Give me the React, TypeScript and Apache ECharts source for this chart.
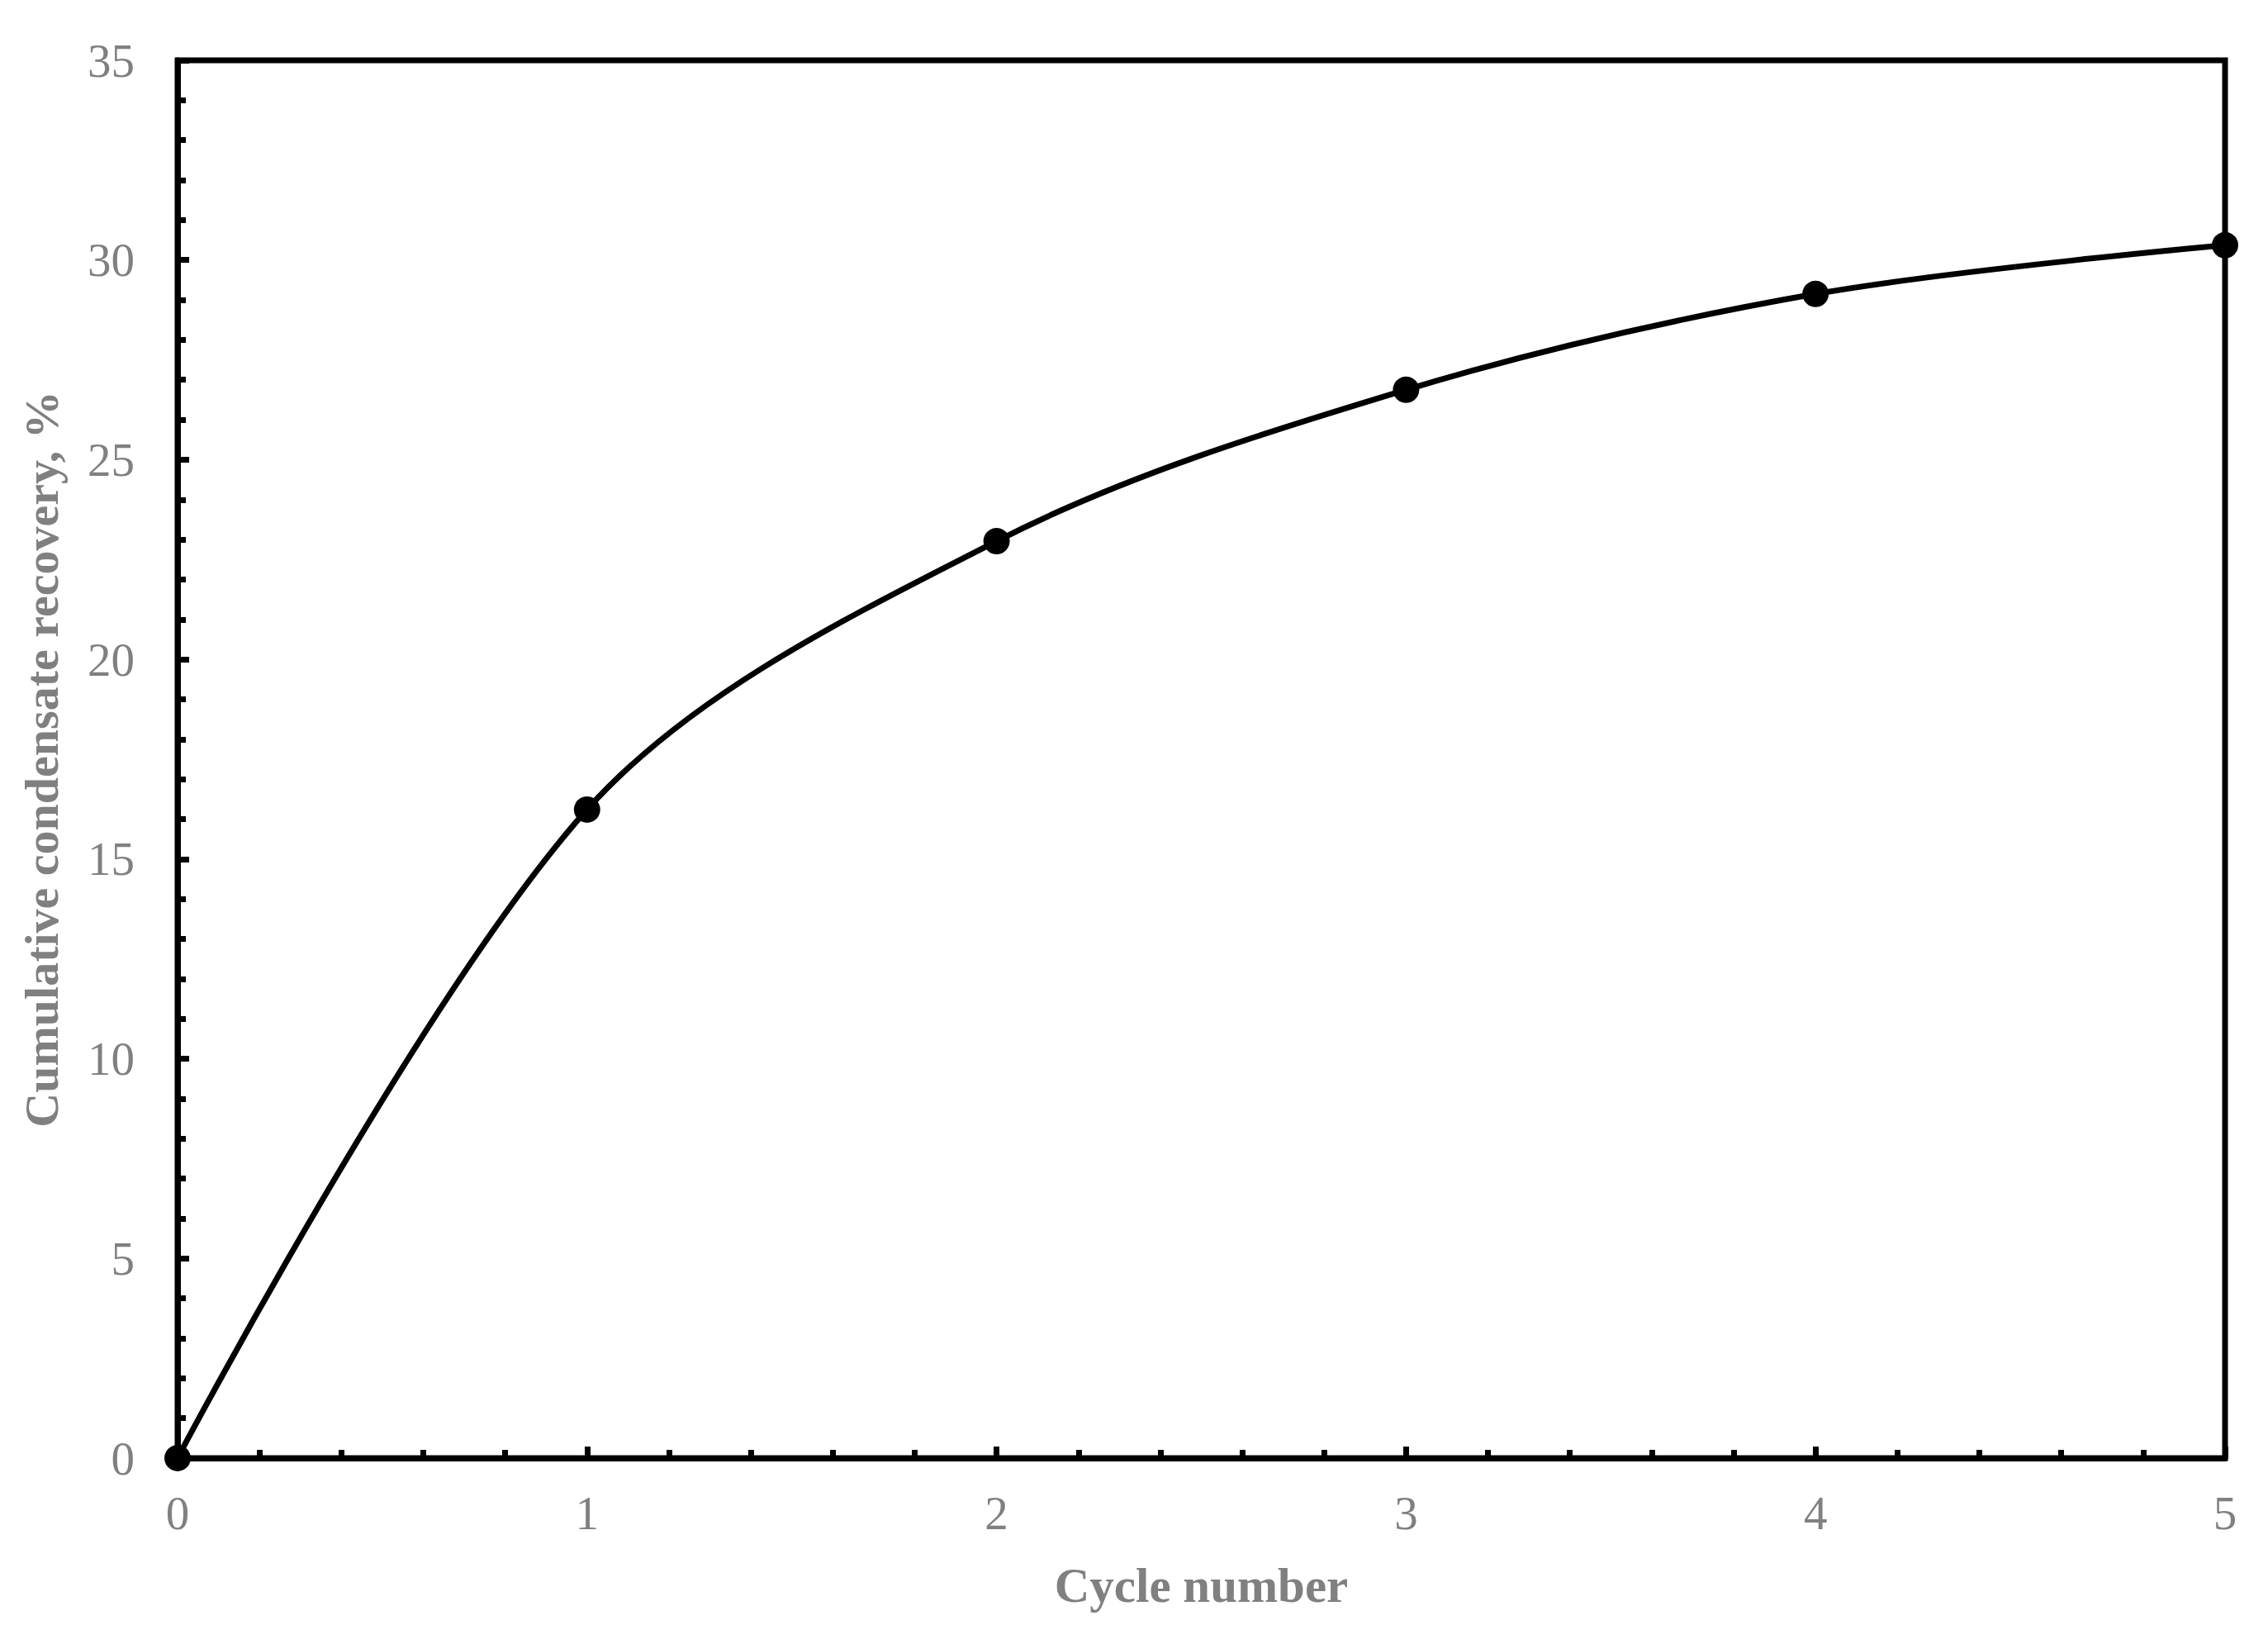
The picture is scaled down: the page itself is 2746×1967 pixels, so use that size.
import React, { useEffect, useRef } from "react";
import * as echarts from "echarts";

const cycles = [0, 1, 2, 3, 4, 5];
const recovery = [0, 16.24, 22.96, 26.75, 29.15, 30.37];
const xTitle = "Cycle number";
const yTitle = "Cumulative condensate recovery, %";

export default function App() {
  const ref = useRef<HTMLDivElement>(null);
  useEffect(() => {
    if (!ref.current) return;
    const chart = echarts.init(ref.current, null, { renderer: "svg" });
    const font = "'Liberation Serif', 'Times New Roman', serif";
    chart.setOption({
      animation: false,
      backgroundColor: "#fff",
      grid: {
        left: 215,
        right: 52,
        top: 73,
        bottom: 202,
        show: true,
        borderColor: "#000",
        borderWidth: 7,
        backgroundColor: "transparent",
      },
      xAxis: {
        type: "value",
        min: 0,
        max: 5,
        interval: 1,
        name: xTitle,
        nameLocation: "middle",
        nameGap: 124,
        nameTextStyle: { fontFamily: font, fontSize: 59, fontWeight: "bold", color: "#808080" },
        axisLine: { show: true, lineStyle: { color: "#000", width: 7 } },
        axisTick: { show: true, inside: true, length: 14, lineStyle: { color: "#000", width: 7 } },
        minorTick: { show: true, splitNumber: 5, length: 10, lineStyle: { color: "#000", width: 7 } },
        splitLine: { show: false },
        axisLabel: { margin: 38, fontFamily: font, fontSize: 57, color: "#808080" },
      },
      yAxis: {
        type: "value",
        min: 0,
        max: 35,
        interval: 5,
        name: yTitle,
        nameLocation: "middle",
        nameGap: 136,
        nameRotate: 90,
        nameTextStyle: { fontFamily: font, fontSize: 58, fontWeight: "bold", color: "#808080" },
        axisLine: { show: true, lineStyle: { color: "#000", width: 7 } },
        axisTick: { show: true, inside: true, length: 14, lineStyle: { color: "#000", width: 7 } },
        minorTick: { show: true, splitNumber: 5, length: 10, lineStyle: { color: "#000", width: 7 } },
        splitLine: { show: false },
        axisLabel: { margin: 52, fontFamily: font, fontSize: 57, color: "#808080" },
      },
      series: [
        {
          type: "line",
          data: cycles.map((c, i) => [c, recovery[i]]),
          smooth: 0.33,
          symbol: "circle",
          symbolSize: 32,
          itemStyle: { color: "#000" },
          lineStyle: { color: "#000", width: 7 },
          clip: false,
          z: 5,
        },
      ],
    });
    return () => chart.dispose();
  }, []);
  return (
    <div
      ref={ref}
      style={{ position: "fixed", left: 0, top: 0, width: 2746, height: 1967, background: "#fff" }}
    />
  );
}
